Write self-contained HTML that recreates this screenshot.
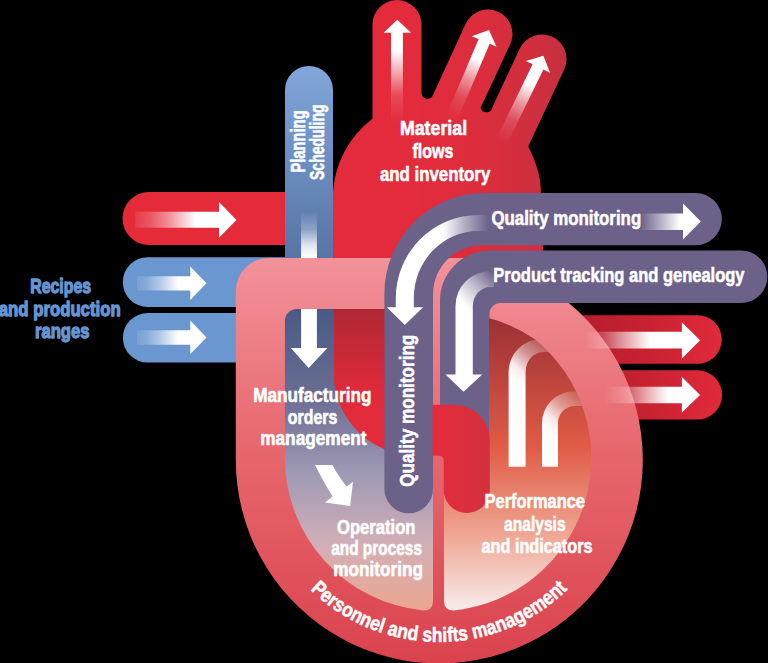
<!DOCTYPE html>
<html><head><meta charset="utf-8"><style>
html,body{margin:0;padding:0;background:#000;}
svg{display:block;}
text{font-family:"Liberation Sans",sans-serif;font-weight:bold;}
</style></head><body>
<svg width="768" height="663" viewBox="0 0 768 663">
<defs>
  <linearGradient id="gRing" x1="0" y1="258" x2="0" y2="661" gradientUnits="userSpaceOnUse">
    <stop offset="0" stop-color="#f2929a"/>
    <stop offset="0.45" stop-color="#e8696f"/>
    <stop offset="1" stop-color="#da434e"/>
  </linearGradient>
  <linearGradient id="gPlan" x1="0" y1="66" x2="0" y2="260" gradientUnits="userSpaceOnUse">
    <stop offset="0" stop-color="#82a6da"/>
    <stop offset="1" stop-color="#5674a4"/>
  </linearGradient>
  <linearGradient id="gLeftCh" x1="0" y1="309" x2="0" y2="611" gradientUnits="userSpaceOnUse">
    <stop offset="0" stop-color="#485a84"/>
    <stop offset="0.3" stop-color="#6c6e94"/>
    <stop offset="0.55" stop-color="#a09ab4"/>
    <stop offset="0.78" stop-color="#d2afb8"/>
    <stop offset="1" stop-color="#eca690"/>
  </linearGradient>
  <linearGradient id="gRightCh" x1="0" y1="314" x2="0" y2="611" gradientUnits="userSpaceOnUse">
    <stop offset="0" stop-color="#9a2e34"/>
    <stop offset="0.45" stop-color="#e05c46"/>
    <stop offset="0.72" stop-color="#eea08c"/>
    <stop offset="1" stop-color="#f8ecec"/>
  </linearGradient>
  <linearGradient id="gChRed" x1="0" y1="309" x2="0" y2="450" gradientUnits="userSpaceOnUse">
    <stop offset="0" stop-color="#b02834"/>
    <stop offset="0.6" stop-color="#e02a3a"/>
    <stop offset="1" stop-color="#e42b3b"/>
  </linearGradient>
  <linearGradient id="gRBar" x1="575" y1="0" x2="722" y2="0" gradientUnits="userSpaceOnUse">
    <stop offset="0" stop-color="#b41d2d"/>
    <stop offset="0.5" stop-color="#c82232"/>
    <stop offset="1" stop-color="#e12a3a"/>
  </linearGradient>


  <linearGradient id="gV1" x1="0" y1="20" x2="0" y2="122" gradientUnits="userSpaceOnUse">
    <stop offset="0" stop-color="#fff"/>
    <stop offset="0.3" stop-color="#fff"/>
    <stop offset="0.56" stop-color="#fff" stop-opacity="0.5"/>
    <stop offset="0.73" stop-color="#fff" stop-opacity="0.15"/>
    <stop offset="1" stop-color="#fff" stop-opacity="0"/>
  </linearGradient>
  <linearGradient id="gVd" x1="0" y1="0" x2="0" y2="95" gradientUnits="userSpaceOnUse">
    <stop offset="0" stop-color="#fff"/>
    <stop offset="0.33" stop-color="#fff"/>
    <stop offset="0.55" stop-color="#fff" stop-opacity="0.5"/>
    <stop offset="0.75" stop-color="#fff" stop-opacity="0.15"/>
    <stop offset="1" stop-color="#fff" stop-opacity="0"/>
  </linearGradient>
  <linearGradient id="gArrL" x1="0" y1="0" x2="-102" y2="0" gradientUnits="userSpaceOnUse">
    <stop offset="0" stop-color="#fff"/>
    <stop offset="0.4" stop-color="#fff"/>
    <stop offset="0.65" stop-color="#fff" stop-opacity="0.5"/>
    <stop offset="0.85" stop-color="#fff" stop-opacity="0.2"/>
    <stop offset="1" stop-color="#fff" stop-opacity="0.08"/>
  </linearGradient>
  <linearGradient id="gArrB" x1="0" y1="0" x2="-70" y2="0" gradientUnits="userSpaceOnUse">
    <stop offset="0" stop-color="#fff"/>
    <stop offset="0.4" stop-color="#fff"/>
    <stop offset="0.65" stop-color="#fff" stop-opacity="0.5"/>
    <stop offset="0.85" stop-color="#fff" stop-opacity="0.2"/>
    <stop offset="1" stop-color="#fff" stop-opacity="0.08"/>
  </linearGradient>
  <linearGradient id="gPlanArr" x1="0" y1="212" x2="0" y2="256" gradientUnits="userSpaceOnUse">
    <stop offset="0" stop-color="#fff" stop-opacity="0"/>
    <stop offset="0.4" stop-color="#fff" stop-opacity="0.3"/>
    <stop offset="0.75" stop-color="#fff" stop-opacity="0.8"/>
    <stop offset="1" stop-color="#fff" stop-opacity="1"/>
  </linearGradient>
  <linearGradient id="gQMh" x1="643" y1="0" x2="680" y2="0" gradientUnits="userSpaceOnUse">
    <stop offset="0" stop-color="#fff" stop-opacity="0.05"/>
    <stop offset="1" stop-color="#fff" stop-opacity="1"/>
  </linearGradient>
  <linearGradient id="gQMc" x1="489" y1="0" x2="443" y2="0" gradientUnits="userSpaceOnUse">
    <stop offset="0" stop-color="#fff" stop-opacity="0"/>
    <stop offset="0.5" stop-color="#fff" stop-opacity="0.45"/>
    <stop offset="1" stop-color="#fff" stop-opacity="1"/>
  </linearGradient>
  <linearGradient id="gPTc" x1="462" y1="302" x2="493" y2="272" gradientUnits="userSpaceOnUse">
    <stop offset="0" stop-color="#fff" stop-opacity="1"/>
    <stop offset="0.45" stop-color="#fff" stop-opacity="0.6"/>
    <stop offset="1" stop-color="#fff" stop-opacity="0"/>
  </linearGradient>
  <linearGradient id="gRA1" x1="585" y1="0" x2="650" y2="0" gradientUnits="userSpaceOnUse">
    <stop offset="0" stop-color="#fff" stop-opacity="0"/>
    <stop offset="0.3" stop-color="#fff" stop-opacity="0.22"/>
    <stop offset="1" stop-color="#fff" stop-opacity="1"/>
  </linearGradient>
  <linearGradient id="gRA2" x1="605" y1="0" x2="668" y2="0" gradientUnits="userSpaceOnUse">
    <stop offset="0" stop-color="#fff" stop-opacity="0"/>
    <stop offset="0.33" stop-color="#fff" stop-opacity="0.22"/>
    <stop offset="1" stop-color="#fff" stop-opacity="1"/>
  </linearGradient>
  <linearGradient id="gArch1" x1="512" y1="378" x2="549" y2="337" gradientUnits="userSpaceOnUse">
    <stop offset="0" stop-color="#fff"/>
    <stop offset="0.2" stop-color="#fff" stop-opacity="0.9"/>
    <stop offset="0.5" stop-color="#fff" stop-opacity="0.45"/>
    <stop offset="0.8" stop-color="#fff" stop-opacity="0.2"/>
    <stop offset="1" stop-color="#fff" stop-opacity="0.1"/>
  </linearGradient>
  <linearGradient id="gArch2" x1="545" y1="428" x2="582" y2="389" gradientUnits="userSpaceOnUse">
    <stop offset="0" stop-color="#fff"/>
    <stop offset="0.2" stop-color="#fff" stop-opacity="0.9"/>
    <stop offset="0.5" stop-color="#fff" stop-opacity="0.45"/>
    <stop offset="0.8" stop-color="#fff" stop-opacity="0.2"/>
    <stop offset="1" stop-color="#fff" stop-opacity="0.1"/>
  </linearGradient>
  <path id="arcP" d="M310.29,589.69 A184,184 0 0 0 583.79,571.28"/>
  <linearGradient id="gBlob" x1="400" y1="0" x2="575" y2="0" gradientUnits="userSpaceOnUse">
    <stop offset="0" stop-color="#e42b3c"/>
    <stop offset="0.45" stop-color="#dc2d3d"/>
    <stop offset="1" stop-color="#c6303f"/>
  </linearGradient>
  <linearGradient id="gRedShape" x1="433" y1="0" x2="490" y2="0" gradientUnits="userSpaceOnUse">
    <stop offset="0" stop-color="#e52b3b"/>
    <stop offset="1" stop-color="#d2303f"/>
  </linearGradient>
  <clipPath id="cpLeft"><path d="M284.9,321 A12,12 0 0 1 296.9,309 L433,309 L433,601 Q433,611.1 423,610.45 A153.2,153.2 0 0 1 284.9,458 Z"/></clipPath>
  <clipPath id="cpRight"><path d="M444,318.3 L489.5,318.3 Q512,324 534.8,339.2 A153.2,153.2 0 0 1 454,610.4 Q444,611.1 444,601 Z"/></clipPath>
</defs>

<!-- right red bars -->
<path d="M520,315.2 H697.5 A24.3,24.3 0 0 1 697.5,363.8 H520 Z" fill="url(#gRBar)"/>
<path d="M520,370.3 H697.5 A24.6,24.6 0 0 1 697.5,419.5 H520 Z" fill="url(#gRBar)"/>

<!-- red heart blob with vessels -->
<path fill="url(#gBlob)" d="M372.5,118 L372.5,24.5 A24.5,24.5 0 0 1 421.5,24.5 L421.5,92.6 A6,6 0 0 0 433.2,94.6 L465.8,23.6 A24.5,24.5 0 0 1 510.2,44.4 L480.6,107.8 A6,6 0 0 0 492.3,107.5 L519.8,48.6 A24.5,24.5 0 0 1 564.2,69.4 L528.2,146.4 C536,162 541,176 541,194 L545,300 L500,420 L384,449 C360,420 340,395 333.5,365 L333,245 L300,245 L300,192 L333,192 A100.4,100.4 0 0 1 372.1,119.1 L372.5,118 Z"/>

<!-- vessel arrows -->
<path fill="url(#gV1)" d="M397.3,19.8 L411,32.8 L402.9,32.8 L402.9,122 L391,122 L391,32.8 L383.6,32.8 Z"/>
<path fill="url(#gVd)" transform="translate(489,30) rotate(23)" d="M0,0 L13.4,12.4 L6,12.4 L6,105 L-6,105 L-6,12.4 L-13.4,12.4 Z"/>
<path fill="url(#gVd)" transform="translate(543.4,55.8) rotate(26)" d="M0,0 L13.4,12.4 L6,12.4 L6,105 L-6,105 L-6,12.4 L-13.4,12.4 Z"/>
<!-- left red bar -->
<path fill="#e52b3a" d="M149,192.1 H300 V245.1 H149 A26.5,26.5 0 0 1 149,192.1 Z"/>

<!-- left blue bars -->
<path fill="#6a97d0" d="M147.7,257.2 H290 V307 H147.7 A24.9,24.9 0 0 1 147.7,257.2 Z"/>
<path fill="#6a97d0" d="M147.7,313 H290 V362.6 H147.7 A24.8,24.8 0 0 1 147.7,313 Z"/>


<!-- left bar arrows -->
<path fill="url(#gArrL)" transform="translate(236.5,220)" d="M0,0 L-17.5,-18 L-17.5,-8.2 L-101.3,-8.2 L-101.3,7.8 L-17.5,7.8 L-17.5,17.8 Z"/>
<path fill="url(#gArrB)" transform="translate(206.5,283.3)" d="M0,0 L-16.2,-16.8 L-16.2,-7.1 L-69.5,-7.1 L-69.5,7.3 L-16.2,7.3 L-16.2,16.6 Z"/>
<path fill="url(#gArrB)" transform="translate(206.5,337.4)" d="M0,0 L-16.2,-16.8 L-16.2,-7.1 L-69.5,-7.1 L-69.5,7.3 L-16.2,7.3 L-16.2,16.6 Z"/>
<!-- planning bar -->
<path fill="url(#gPlan)" d="M285,90 A24,24 0 0 1 333,90 V320 H285 Z"/>

<rect x="301.1" y="208" width="15.8" height="60" fill="url(#gPlanArr)"/>
<rect x="486" y="298" width="16" height="18" fill="#6b6189"/>
<!-- ring -->
<path fill="url(#gRing)" fill-rule="evenodd" d="M235.8,460 L235.8,291 A33,33 0 0 1 268.8,258 L470,258 L470,330 L489.5,330 L489.5,314 A11,11 0 0 1 500.5,303 L568.8,303 A203.5,203.5 0 1 1 235.8,460 Z"/>

<!-- right bar arrows -->
<path fill="url(#gRA1)" d="M700.1,340.3 L681.9,322.3 L681.9,331.8 L585,331.8 L585,348.6 L681.9,348.6 L681.9,358.6 Z"/>
<path fill="url(#gRA2)" d="M700.1,394.9 L681.9,376.9 L681.9,386.7 L605,386.7 L605,403.3 L681.9,403.3 L681.9,412.5 Z"/>
<!-- left chamber -->
<g clip-path="url(#cpLeft)">
  <rect x="280" y="300" width="160" height="320" fill="url(#gLeftCh)"/>
  <path fill="url(#gChRed)" d="M334,300 L440,300 L440,470 L384,449 A82,82 0 0 1 334,367 Z"/>
  <path fill="#fff" d="M301.1,300 L316.9,300 L316.9,348 L327.4,348 L308.6,367.9 L290.9,348 L301.1,348 Z"/>
  <path fill="#fff" d="M315,465 L332.6,465 Q335.6,472.2 346.6,486.7 L353,481.7 L350.2,506.1 L324.9,502.5 L332.6,496.6 Q322.4,479.8 315,465 Z"/>
</g>
<!-- right chamber -->
<g clip-path="url(#cpRight)">
  <rect x="440" y="300" width="160" height="320" fill="url(#gRightCh)"/>
  <path fill="url(#gArch1)" d="M508.6,466.8 L508.6,372 A33,33 0 0 1 541.6,339 L560,339 L560,352 L543.6,352 A18,20 0 0 0 525.6,372 L525.6,466.8 Z"/>
  <path fill="url(#gArch2)" d="M542,466.8 L542,423 A31.5,31.5 0 0 1 573.5,391.5 L590,391.5 L590,406 L575,406 A17,17 0 0 0 558,423 L558,466.8 Z"/>
</g>

<!-- pipes -->
<path fill="#6b6189" d="M384.4,489 L384.4,293.5 A100.6,100.6 0 0 1 485,192.9 L695.7,192.9 A26.15,26.15 0 0 1 695.7,245.2 L482,245.2 A49,49 0 0 0 433,294 L433,489 A24.3,24.3 0 0 1 384.4,489 Z"/>
<path fill="#6b6189" d="M440,450 L440,300.5 A50,50 0 0 1 490,250.5 L741.1,250.5 A26.25,26.25 0 0 1 741.1,303 L489,303 L489,450 L440,450 Z"/>

<!-- pipe arrows -->
<path fill="url(#gQMh)" d="M700.8,221.5 L683,203.5 L683,213.4 L642,213.4 L642,230 L683,230 L683,239.4 Z"/>
<path fill="url(#gQMc)" d="M395.8,307.3 L395.8,298 A83,83 0 0 1 478.8,215 L492,215 L492,231 L478.8,231 A65,67 0 0 0 413.8,298 L413.8,307.3 L423.1,307.3 L404.8,325 L386.9,307.3 Z"/>
<path fill="url(#gPTc)" d="M455.5,374.6 L455.5,306 A35,35 0 0 1 490.5,271 L494,271 L494,287 L490.5,287 A17.7,19 0 0 0 472.8,306 L472.8,374.6 L482.2,374.6 L463.6,391.7 L445.5,374.6 Z"/>
<!-- red shape right chamber -->
<path fill="url(#gRedShape)" d="M432.5,404.7 L454.5,404.7 A35.3,35.3 0 0 1 489.8,440 L489.8,490 A23,23 0 0 1 443.7,490 L443.7,461 Q443.7,455.8 438.5,455.8 L432.5,455.8 Z"/>

<!-- TEXT -->
<text x="399.90" y="134.80" font-size="20.60" textLength="67.20" lengthAdjust="spacingAndGlyphs" fill="#fff" stroke="#fff" stroke-width="0.6" stroke-linejoin="round">Material</text>
<text x="412.50" y="158.00" font-size="20.60" textLength="40.90" lengthAdjust="spacingAndGlyphs" fill="#fff" stroke="#fff" stroke-width="0.6" stroke-linejoin="round">flows</text>
<text x="379.90" y="180.50" font-size="20.60" textLength="110.40" lengthAdjust="spacingAndGlyphs" fill="#fff" stroke="#fff" stroke-width="0.6" stroke-linejoin="round">and inventory</text>
<text x="491.40" y="225.40" font-size="21.00" textLength="149.80" lengthAdjust="spacingAndGlyphs" fill="#fff" stroke="#fff" stroke-width="0.6" stroke-linejoin="round">Quality monitoring</text>
<text x="493.30" y="282.00" font-size="21.00" textLength="251.20" lengthAdjust="spacingAndGlyphs" fill="#fff" stroke="#fff" stroke-width="0.6" stroke-linejoin="round">Product tracking and genealogy</text>
<text transform="translate(304.70,172.60) rotate(-90)" font-size="19.50" textLength="62.40" lengthAdjust="spacingAndGlyphs" fill="#fff" stroke="#fff" stroke-width="0.6" stroke-linejoin="round">Planning</text>
<text transform="translate(324.40,180.00) rotate(-90)" font-size="19.50" textLength="75.60" lengthAdjust="spacingAndGlyphs" fill="#fff" stroke="#fff" stroke-width="0.6" stroke-linejoin="round">Scheduling</text>
<text transform="translate(414.30,486.70) rotate(-90)" font-size="21.00" textLength="152.00" lengthAdjust="spacingAndGlyphs" fill="#fff" stroke="#fff" stroke-width="0.6" stroke-linejoin="round">Quality monitoring</text>
<text x="253.20" y="402.20" font-size="20.60" textLength="118.20" lengthAdjust="spacingAndGlyphs" fill="#fff" stroke="#fff" stroke-width="0.6" stroke-linejoin="round">Manufacturing</text>
<text x="287.80" y="423.70" font-size="20.60" textLength="49.50" lengthAdjust="spacingAndGlyphs" fill="#fff" stroke="#fff" stroke-width="0.6" stroke-linejoin="round">orders</text>
<text x="260.20" y="445.30" font-size="20.60" textLength="106.40" lengthAdjust="spacingAndGlyphs" fill="#fff" stroke="#fff" stroke-width="0.6" stroke-linejoin="round">management</text>
<text x="337.00" y="533.90" font-size="20.60" textLength="78.50" lengthAdjust="spacingAndGlyphs" fill="#fff" stroke="#fff" stroke-width="0.6" stroke-linejoin="round">Operation</text>
<text x="331.20" y="554.90" font-size="20.60" textLength="90.80" lengthAdjust="spacingAndGlyphs" fill="#fff" stroke="#fff" stroke-width="0.6" stroke-linejoin="round">and process</text>
<text x="333.30" y="575.80" font-size="20.60" textLength="89.60" lengthAdjust="spacingAndGlyphs" fill="#fff" stroke="#fff" stroke-width="0.6" stroke-linejoin="round">monitoring</text>
<text x="484.60" y="508.30" font-size="20.60" textLength="100.40" lengthAdjust="spacingAndGlyphs" fill="#fff" stroke="#fff" stroke-width="0.6" stroke-linejoin="round">Performance</text>
<text x="504.00" y="530.60" font-size="20.60" textLength="61.60" lengthAdjust="spacingAndGlyphs" fill="#fff" stroke="#fff" stroke-width="0.6" stroke-linejoin="round">analysis</text>
<text x="481.50" y="553.10" font-size="20.60" textLength="111.00" lengthAdjust="spacingAndGlyphs" fill="#fff" stroke="#fff" stroke-width="0.6" stroke-linejoin="round">and indicators</text>
<text x="30.20" y="292.80" font-size="20.50" textLength="60.90" lengthAdjust="spacingAndGlyphs" fill="#6595d2" stroke="#6595d2" stroke-width="1.3" stroke-linejoin="round">Recipes</text>
<text x="-1.20" y="316.40" font-size="20.50" textLength="121.80" lengthAdjust="spacingAndGlyphs" fill="#6595d2" stroke="#6595d2" stroke-width="1.3" stroke-linejoin="round">and production</text>
<text x="35.00" y="337.50" font-size="20.50" textLength="54.50" lengthAdjust="spacingAndGlyphs" fill="#6595d2" stroke="#6595d2" stroke-width="1.3" stroke-linejoin="round">ranges</text>
<text font-size="20.6" fill="#fff" stroke="#fff" stroke-width="0.5" stroke-linejoin="round"><textPath href="#arcP" textLength="285" lengthAdjust="spacingAndGlyphs">Personnel and shifts management</textPath></text>

</svg>
</body></html>
